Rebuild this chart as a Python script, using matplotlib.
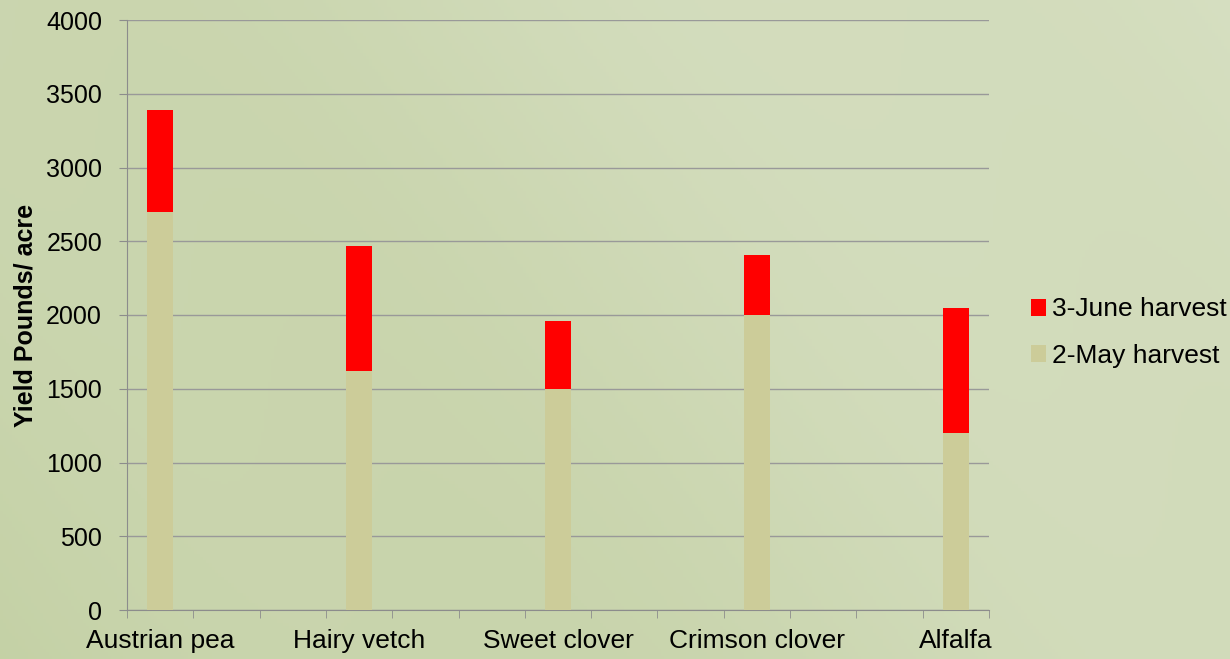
import numpy as np
import matplotlib
matplotlib.use("Agg")
import matplotlib.pyplot as plt
from matplotlib.ticker import MultipleLocator, FixedLocator

plt.rcParams['font.family'] = ['Liberation Sans', 'DejaVu Sans']

# data
crops = ['Austrian pea', 'Hairy vetch', 'Sweet clover', 'Crimson clover', 'Alfalfa']
may_harvest = [2700, 1620, 1500, 2000, 1200]
june_harvest = [690, 845, 460, 405, 850]

fig = plt.figure(figsize=(12.3, 6.59), dpi=100)

# soft green backdrop
bg = fig.add_axes([0, 0, 1, 1], zorder=-10)
gx = np.linspace(0, 1, 400)
gy = np.linspace(0, 1, 200)
X, Y = np.meshgrid(gx, gy)
shade = 0.55 * X + 0.25 * Y + 0.08 * np.sin(X * 9.0 + Y * 3.0)
c0 = np.array([0.77, 0.82, 0.65])
c1 = np.array([0.86, 0.89, 0.79])
img = c0 + (c1 - c0) * np.clip(shade, 0, 1)[..., None]
bg.imshow(img, aspect='auto', extent=[0, 1, 0, 1], origin='lower')
bg.axis('off')

ax = fig.add_axes([127 / 1230, 49 / 659, 862 / 1230, 590 / 659])
ax.patch.set_alpha(0)

x = np.arange(len(crops)) * 3
b1 = ax.bar(x, may_harvest, width=0.4, color='#cccc99', label='2-May harvest', zorder=3)
b2 = ax.bar(x, june_harvest, width=0.4, bottom=may_harvest, color='#ff0000',
            label='3-June harvest', zorder=3)

ax.set_xlim(-0.5, x[-1] + 0.5)
ax.set_ylim(0, 4000)
ax.yaxis.set_major_locator(MultipleLocator(500))
ax.grid(axis='y', color='#999999', linewidth=1, zorder=0)

ax.set_xticks(x)
ax.set_xticklabels(crops, fontsize=19)
ax.xaxis.set_minor_locator(FixedLocator(np.arange(-0.5, x[-1] + 1, 1)))
ax.tick_params(axis='x', which='major', length=0, pad=14)
ax.tick_params(axis='x', which='minor', length=6, color='#8c8c8c')
ax.tick_params(axis='y', length=6, color='#8c8c8c', labelsize=18, pad=12)

for side in ['top', 'right']:
    ax.spines[side].set_visible(False)
for side in ['left', 'bottom']:
    ax.spines[side].set_color('#8c8c8c')

ax.set_ylabel('Yield Pounds/ acre', fontsize=18, fontweight='bold', labelpad=6)

ax.legend(handles=[b2, b1], loc='center left', bbox_to_anchor=(1.033, 0.47),
          frameon=False, fontsize=19, handlelength=0.6, handleheight=0.6,
          handletextpad=0.2, labelspacing=0.85, borderpad=0)

fig.savefig('out.png', dpi=100)
